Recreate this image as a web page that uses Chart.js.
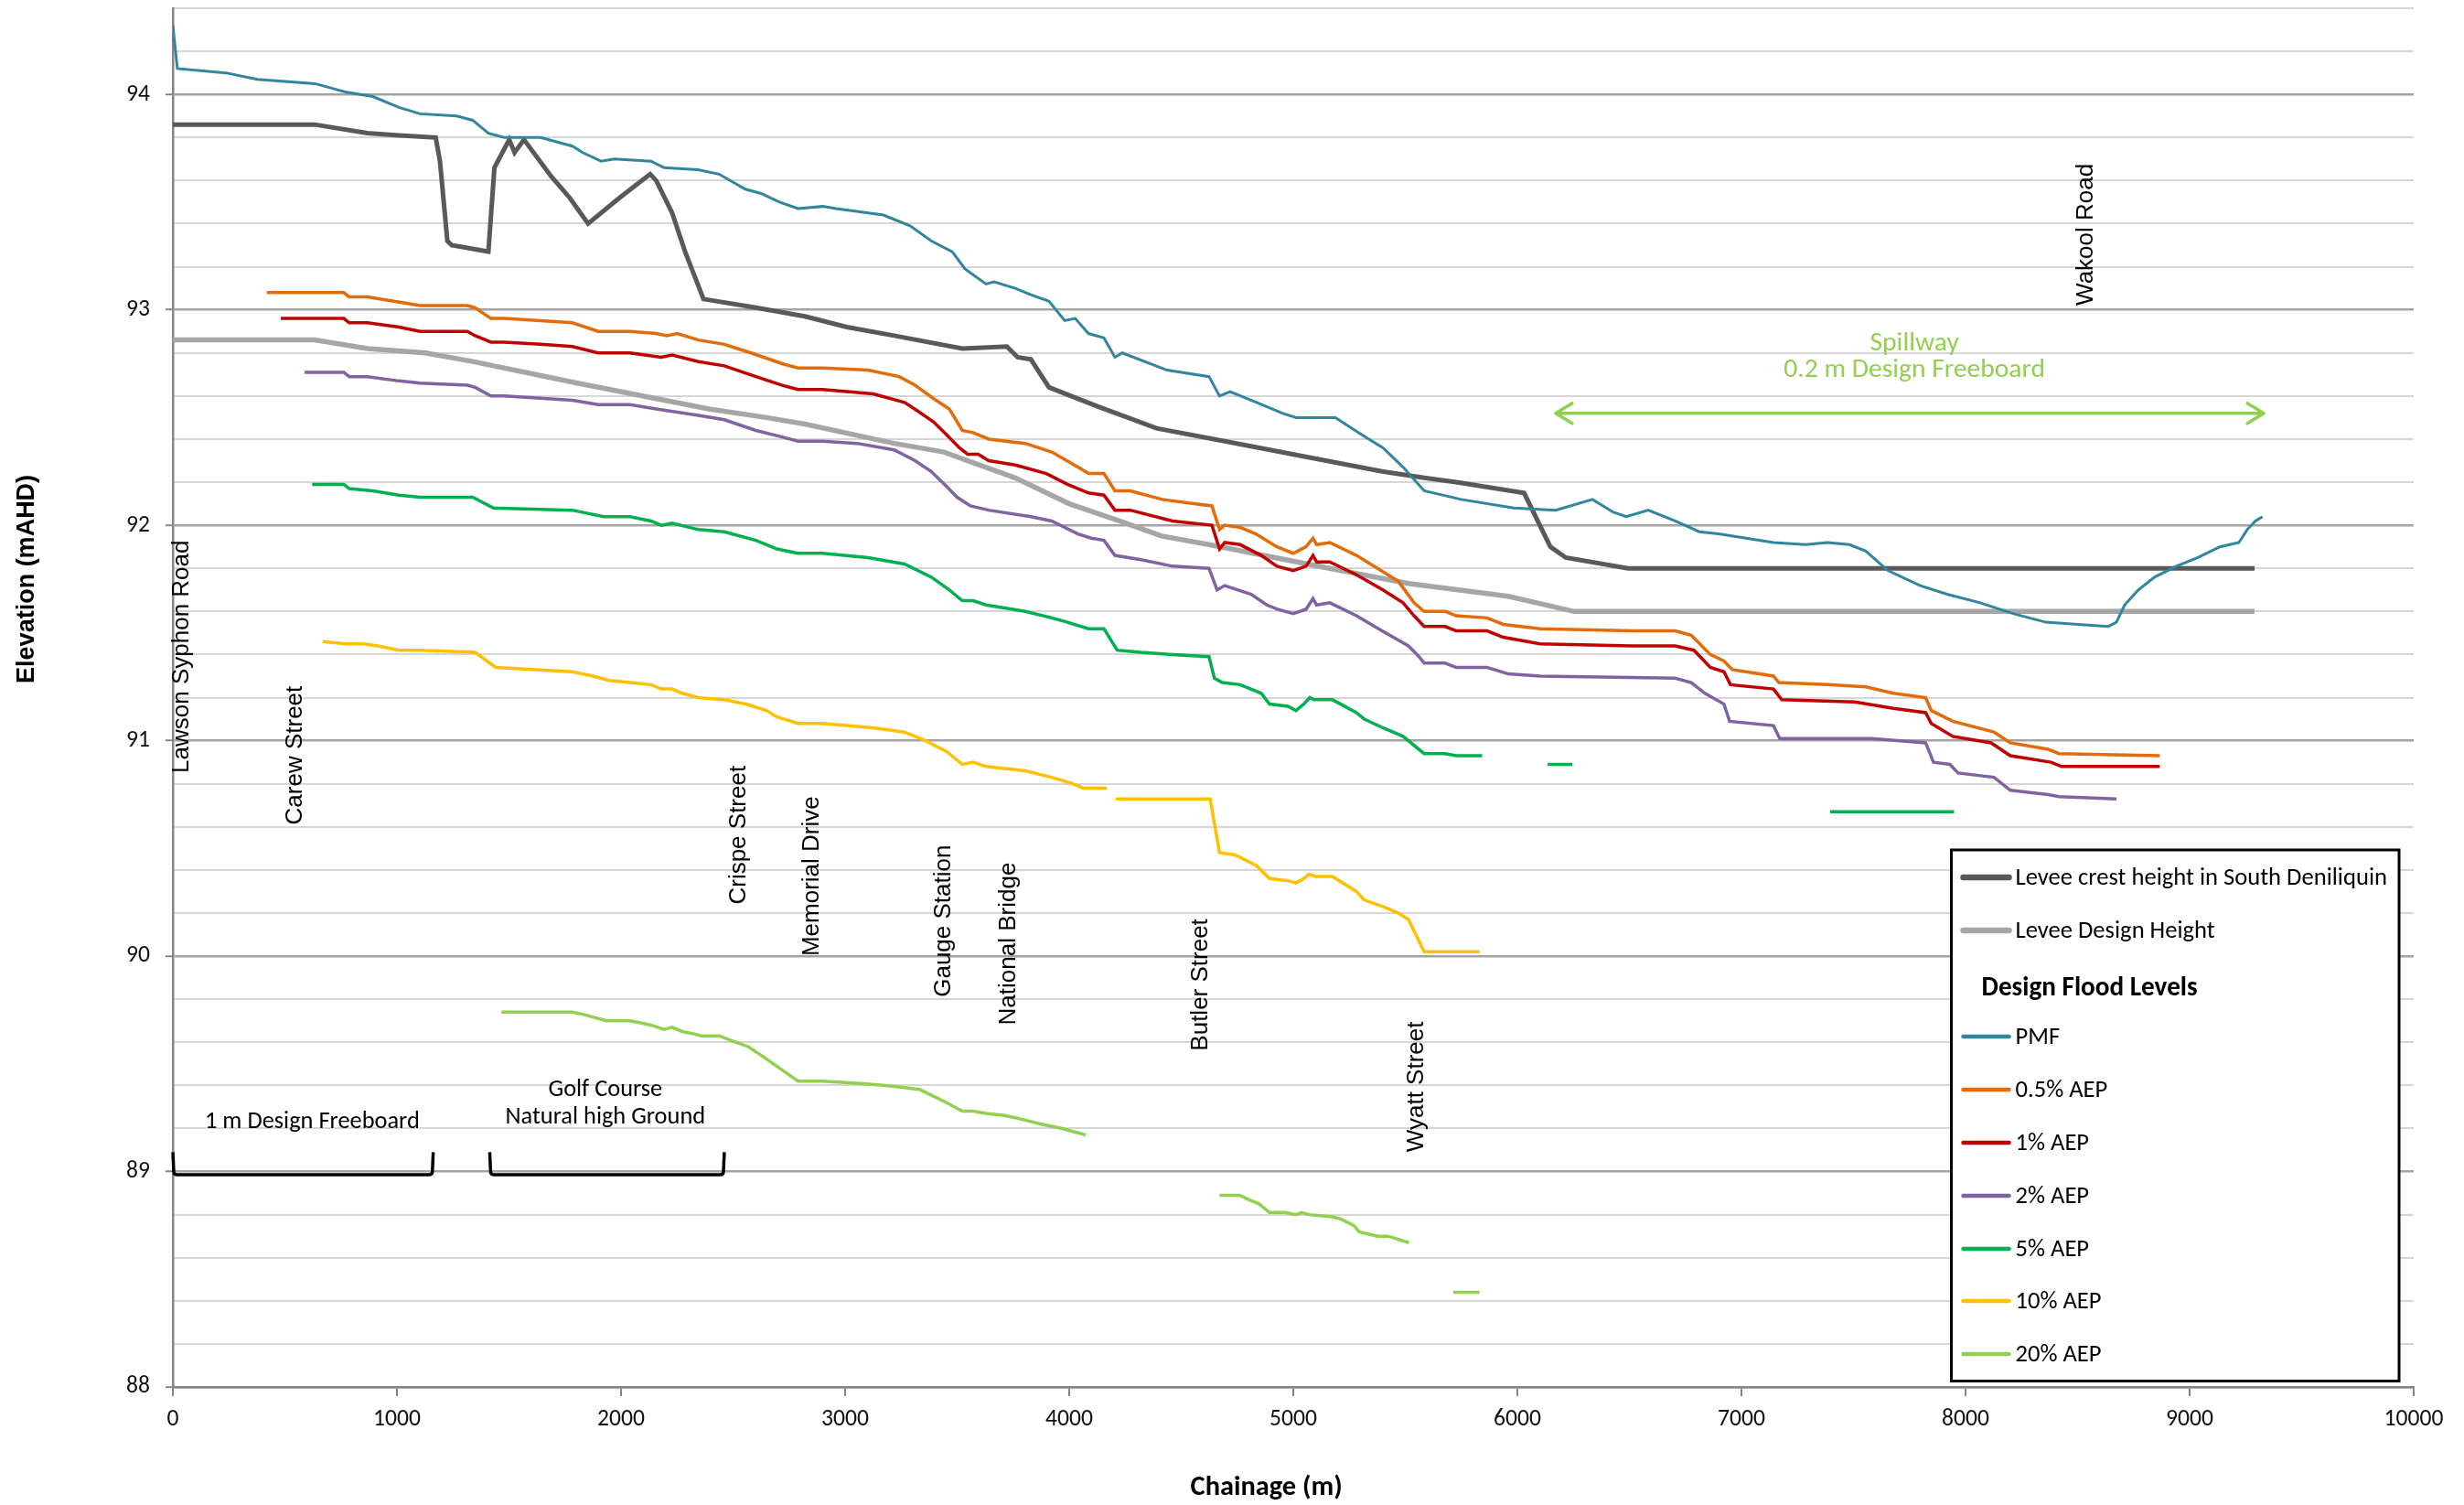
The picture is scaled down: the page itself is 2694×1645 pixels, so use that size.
<!DOCTYPE html>
<html><head><meta charset="utf-8">
<script src="https://cdn.jsdelivr.net/npm/chart.js@4.4.1/dist/chart.umd.min.js"></script>
<style>html,body{margin:0;padding:0;background:#fff}#wrap{position:relative;width:2694px;height:1645px}</style>
</head><body><div id="wrap"><canvas id="c"></canvas></div>
<script>
// ---------------- DATA ----------------
const X_TICK_STEP = 1000;
const Y_MIN = 88, Y_MAX = 94.4;

const LEVEE_CREST_X = [0, 633, 868, 1009, 1173, 1192, 1225, 1244, 1408, 1435, 1501, 1525, 1567, 1688, 1771, 1853, 1993, 2130, 2157, 2228, 2286, 2368, 2602, 2820, 3008, 3219, 3523, 3722, 3770, 3829, 3910, 4131, 4390, 4694, 5045, 5396, 5584, 5727, 6030, 6147, 6216, 6494, 9290];
const LEVEE_CREST_Y = [93.86, 93.86, 93.82, 93.81, 93.80, 93.69, 93.32, 93.30, 93.27, 93.66, 93.79, 93.73, 93.79, 93.62, 93.52, 93.40, 93.52, 93.63, 93.60, 93.45, 93.27, 93.05, 93.01, 92.97, 92.92, 92.88, 92.82, 92.83, 92.78, 92.77, 92.64, 92.55, 92.45, 92.39, 92.32, 92.25, 92.22, 92.20, 92.15, 91.90, 91.85, 91.80, 91.80];

const LEVEE_DESIGN_X = [0, 633, 868, 1127, 1338, 1805, 2392, 2649, 2820, 3219, 3441, 3759, 4000, 4224, 4412, 4624, 5163, 5514, 5959, 6253, 9290];
const LEVEE_DESIGN_Y = [92.86, 92.86, 92.82, 92.80, 92.76, 92.66, 92.54, 92.50, 92.47, 92.38, 92.34, 92.22, 92.10, 92.02, 91.95, 91.91, 91.80, 91.73, 91.67, 91.60, 91.60];

const PMF_X = [0, 20, 236, 377, 634, 775, 892, 1009, 1103, 1266, 1338, 1408, 1478, 1641, 1783, 1829, 1911, 1970, 2134, 2192, 2343, 2437, 2555, 2625, 2707, 2790, 2900, 2960, 3171, 3290, 3384, 3478, 3535, 3629, 3665, 3759, 3829, 3910, 3980, 4027, 4086, 4155, 4204, 4237, 4437, 4624, 4671, 4718, 4836, 4951, 5012, 5188, 5306, 5400, 5490, 5584, 5749, 5984, 6171, 6335, 6429, 6486, 6584, 6704, 6812, 6898, 7143, 7286, 7384, 7482, 7555, 7653, 7798, 7918, 8065, 8212, 8358, 8502, 8637, 8673, 8710, 8771, 8845, 8941, 9037, 9135, 9220, 9257, 9294, 9325];
const PMF_Y = [94.32, 94.12, 94.10, 94.07, 94.05, 94.01, 93.99, 93.94, 93.91, 93.90, 93.88, 93.82, 93.80, 93.80, 93.76, 93.73, 93.69, 93.70, 93.69, 93.66, 93.65, 93.63, 93.56, 93.54, 93.50, 93.47, 93.48, 93.47, 93.44, 93.39, 93.32, 93.27, 93.19, 93.12, 93.13, 93.10, 93.07, 93.04, 92.95, 92.96, 92.89, 92.87, 92.78, 92.80, 92.72, 92.69, 92.60, 92.62, 92.57, 92.52, 92.50, 92.50, 92.42, 92.36, 92.27, 92.16, 92.12, 92.08, 92.07, 92.12, 92.06, 92.04, 92.07, 92.02, 91.97, 91.96, 91.92, 91.91, 91.92, 91.91, 91.88, 91.79, 91.72, 91.68, 91.64, 91.59, 91.55, 91.54, 91.53, 91.55, 91.63, 91.70, 91.76, 91.81, 91.85, 91.90, 91.92, 91.98, 92.02, 92.04];

const AEP05_X = [419, 763, 787, 868, 986, 1103, 1314, 1349, 1419, 1478, 1641, 1783, 1898, 2040, 2157, 2205, 2251, 2345, 2461, 2580, 2719, 2790, 2900, 3102, 3241, 3312, 3406, 3465, 3523, 3571, 3641, 3804, 3922, 4039, 4086, 4155, 4204, 4273, 4415, 4555, 4637, 4671, 4694, 4763, 4833, 4927, 5000, 5057, 5088, 5104, 5163, 5282, 5376, 5469, 5539, 5584, 5678, 5727, 5865, 5937, 6102, 6510, 6704, 6776, 6861, 6922, 6959, 7143, 7167, 7384, 7555, 7678, 7822, 7847, 7943, 8127, 8200, 8369, 8417, 8867];
const AEP05_Y = [93.08, 93.08, 93.06, 93.06, 93.04, 93.02, 93.02, 93.01, 92.96, 92.96, 92.95, 92.94, 92.90, 92.90, 92.89, 92.88, 92.89, 92.86, 92.84, 92.80, 92.75, 92.73, 92.73, 92.72, 92.69, 92.65, 92.58, 92.54, 92.44, 92.43, 92.40, 92.38, 92.34, 92.27, 92.24, 92.24, 92.16, 92.16, 92.12, 92.10, 92.09, 91.98, 92.00, 91.99, 91.96, 91.90, 91.87, 91.90, 91.94, 91.91, 91.92, 91.86, 91.80, 91.74, 91.64, 91.60, 91.60, 91.58, 91.57, 91.54, 91.52, 91.51, 91.51, 91.49, 91.40, 91.37, 91.33, 91.30, 91.27, 91.26, 91.25, 91.22, 91.20, 91.14, 91.09, 91.04, 90.99, 90.96, 90.94, 90.93];

const AEP1_X = [482, 763, 787, 868, 1009, 1103, 1314, 1349, 1419, 1478, 1641, 1783, 1898, 2040, 2180, 2228, 2345, 2461, 2602, 2719, 2790, 2900, 3125, 3265, 3324, 3394, 3453, 3510, 3547, 3594, 3641, 3759, 3898, 3992, 4086, 4155, 4204, 4273, 4461, 4637, 4671, 4694, 4763, 4857, 4927, 5000, 5057, 5088, 5104, 5163, 5282, 5400, 5490, 5539, 5584, 5678, 5727, 5865, 5937, 6102, 6510, 6704, 6788, 6861, 6922, 6951, 7143, 7180, 7506, 7678, 7822, 7847, 7943, 8114, 8200, 8381, 8429, 8867];
const AEP1_Y = [92.96, 92.96, 92.94, 92.94, 92.92, 92.90, 92.90, 92.88, 92.85, 92.85, 92.84, 92.83, 92.80, 92.80, 92.78, 92.79, 92.76, 92.74, 92.69, 92.65, 92.63, 92.63, 92.61, 92.57, 92.53, 92.48, 92.42, 92.36, 92.33, 92.33, 92.30, 92.28, 92.24, 92.19, 92.15, 92.14, 92.07, 92.07, 92.02, 92.00, 91.89, 91.92, 91.91, 91.86, 91.81, 91.79, 91.81, 91.86, 91.83, 91.83, 91.77, 91.70, 91.64, 91.58, 91.53, 91.53, 91.51, 91.51, 91.48, 91.45, 91.44, 91.44, 91.42, 91.34, 91.32, 91.26, 91.24, 91.19, 91.18, 91.15, 91.13, 91.08, 91.02, 90.99, 90.93, 90.90, 90.88, 90.88];

const AEP2_X = [588, 763, 787, 868, 1009, 1103, 1314, 1349, 1419, 1478, 1641, 1783, 1898, 2040, 2157, 2345, 2461, 2602, 2719, 2790, 2900, 3053, 3219, 3312, 3384, 3453, 3500, 3559, 3641, 3829, 3922, 4039, 4098, 4155, 4204, 4320, 4461, 4624, 4660, 4694, 4812, 4882, 4929, 5000, 5057, 5088, 5104, 5163, 5282, 5396, 5514, 5561, 5584, 5678, 5727, 5865, 5959, 6102, 6704, 6776, 6837, 6922, 6947, 7143, 7171, 7580, 7822, 7857, 7930, 7967, 8127, 8200, 8369, 8417, 8673];
const AEP2_Y = [92.71, 92.71, 92.69, 92.69, 92.67, 92.66, 92.65, 92.64, 92.60, 92.60, 92.59, 92.58, 92.56, 92.56, 92.54, 92.51, 92.49, 92.44, 92.41, 92.39, 92.39, 92.38, 92.35, 92.30, 92.25, 92.18, 92.13, 92.09, 92.07, 92.04, 92.02, 91.96, 91.94, 91.93, 91.86, 91.84, 91.81, 91.80, 91.70, 91.72, 91.68, 91.63, 91.61, 91.59, 91.61, 91.66, 91.63, 91.64, 91.58, 91.51, 91.44, 91.39, 91.36, 91.36, 91.34, 91.34, 91.31, 91.30, 91.29, 91.27, 91.22, 91.17, 91.09, 91.07, 91.01, 91.01, 90.99, 90.90, 90.89, 90.85, 90.83, 90.77, 90.75, 90.74, 90.73];

const AEP5_X = [622, 763, 787, 892, 1009, 1103, 1338, 1431, 1782, 1923, 2040, 2134, 2180, 2228, 2345, 2461, 2602, 2696, 2790, 2900, 3102, 3265, 3384, 3465, 3523, 3571, 3629, 3804, 3922, 3992, 4086, 4155, 4214, 4320, 4461, 4624, 4648, 4683, 4763, 4857, 4894, 4976, 5012, 5047, 5074, 5093, 5175, 5282, 5317, 5400, 5490, 5584, 5678, 5727, 5843, 6000, 6135, 6245, 7000, 7396, 7949];
const AEP5_Y = [92.19, 92.19, 92.17, 92.16, 92.14, 92.13, 92.13, 92.08, 92.07, 92.04, 92.04, 92.02, 92.00, 92.01, 91.98, 91.97, 91.93, 91.89, 91.87, 91.87, 91.85, 91.82, 91.76, 91.70, 91.65, 91.65, 91.63, 91.60, 91.57, 91.55, 91.52, 91.52, 91.42, 91.41, 91.40, 91.39, 91.29, 91.27, 91.26, 91.22, 91.17, 91.16, 91.14, 91.17, 91.20, 91.19, 91.19, 91.13, 91.10, 91.06, 91.02, 90.94, 90.94, 90.93, 90.93, null, 90.89, 90.89, null, 90.67, 90.67];

const AEP10_X = [669, 772, 845, 915, 1009, 1103, 1349, 1441, 1782, 1876, 1946, 2040, 2134, 2180, 2228, 2273, 2345, 2461, 2556, 2649, 2696, 2790, 2900, 3125, 3265, 3359, 3453, 3523, 3571, 3629, 3804, 3922, 4015, 4063, 4168, 4188, 4207, 4629, 4671, 4741, 4836, 4894, 4976, 5012, 5047, 5071, 5099, 5175, 5282, 5317, 5400, 5469, 5514, 5584, 5831];
const AEP10_Y = [91.46, 91.45, 91.45, 91.44, 91.42, 91.42, 91.41, 91.34, 91.32, 91.30, 91.28, 91.27, 91.26, 91.24, 91.24, 91.22, 91.20, 91.19, 91.17, 91.14, 91.11, 91.08, 91.08, 91.06, 91.04, 91.00, 90.95, 90.89, 90.90, 90.88, 90.86, 90.83, 90.80, 90.78, 90.78, null, 90.73, 90.73, 90.48, 90.47, 90.42, 90.36, 90.35, 90.34, 90.36, 90.38, 90.37, 90.37, 90.30, 90.26, 90.23, 90.20, 90.17, 90.02, 90.02];

const AEP20_X = [1466, 1782, 1829, 1935, 2040, 2087, 2134, 2192, 2228, 2273, 2322, 2357, 2439, 2486, 2567, 2625, 2790, 2900, 3053, 3171, 3265, 3335, 3453, 3523, 3570, 3629, 3711, 3759, 3876, 3969, 4074, 4300, 4671, 4760, 4800, 4847, 4894, 4964, 5012, 5036, 5071, 5175, 5211, 5270, 5294, 5376, 5423, 5516, 5600, 5714, 5831];
const AEP20_Y = [89.74, 89.74, 89.73, 89.70, 89.70, 89.69, 89.68, 89.66, 89.67, 89.65, 89.64, 89.63, 89.63, 89.61, 89.58, 89.54, 89.42, 89.42, 89.41, 89.40, 89.39, 89.38, 89.32, 89.28, 89.28, 89.27, 89.26, 89.25, 89.22, 89.20, 89.17, null, 88.89, 88.89, 88.87, 88.85, 88.81, 88.81, 88.80, 88.81, 88.80, 88.79, 88.78, 88.75, 88.72, 88.70, 88.70, 88.67, null, 88.44, 88.44];

const SERIES_LABELS = ['Levee crest height in South Deniliquin', 'Levee Design Height', 'PMF', '0.5% AEP', '1% AEP', '2% AEP', '5% AEP', '10% AEP', '20% AEP'];

// location labels (chainage of label, elevation where the upright text begins)
const STREET_NAMES = ['Lawson Syphon Road', 'Carew Street', 'Crispe Street', 'Memorial Drive', 'Gauge Station', 'National Bridge', 'Butler Street', 'Wyatt Street', 'Wakool Road'];
const STREET_CHAINAGE = [41, 547, 2527, 2853, 3441, 3731, 4588, 5551, 8539];
const STREET_LABEL_ELEV = [90.85, 90.61, 90.24, 90.00, 89.81, 89.68, 89.56, 89.09, 93.02];

// freeboard brackets
const BRACKET_START = [0, 1414];
const BRACKET_END = [1162, 2461];
const BRACKET_TOP = 89.09, BRACKET_BOTTOM = 88.985;
const BRACKET_TEXT = [['1 m Design Freeboard'], ['Golf Course', 'Natural high Ground']];
const BRACKET_TEXT_X = [622, 1930];
const BRACKET_TEXT_Y = [[89.23], [89.38, 89.25]];

// spillway arrow
const SPILL_FROM = 6171, SPILL_TO = 9331, SPILL_ELEV = 92.52;
const SPILL_TEXT = ['Spillway', '0.2 m Design Freeboard'];
const SPILL_TEXT_X = 7772;
const SPILL_TEXT_Y = [92.845, 92.718];

// ---------------- FONTS ----------------
const mctx = document.createElement('canvas').getContext('2d');
function hasFont(name) {
  const s = 'abcdefghijklmnopqrstuvwxyz0123456789ABCDEF';
  mctx.font = '40px monospace'; const a = mctx.measureText(s).width;
  mctx.font = '40px "' + name + '", monospace'; const b = mctx.measureText(s).width;
  mctx.font = '40px serif'; const c = mctx.measureText(s).width;
  mctx.font = '40px "' + name + '", serif'; const d = mctx.measureText(s).width;
  return a !== b || c !== d;
}
const NARROW = ['Carlito', 'Liberation Sans Narrow', 'Lato'].find(hasFont) || 'Lato';
const NARROW_F = '"' + NARROW + '", "Liberation Sans", sans-serif';
const ARIAL_F = '"Liberation Sans", Arial, sans-serif';
function fit(text, target, family, weight) {
  mctx.font = (weight || 'normal') + ' 100px ' + family;
  return Math.round(1000 * target / mctx.measureText(text).width) / 10;
}
const FS = {
  tick: fit('10000', 65, NARROW_F),
  legend: fit('Levee crest height in South Deniliquin', 407, NARROW_F),
  legendHead: fit('Design Flood Levels', 236, NARROW_F, 'bold'),
  spill: fit('0.2 m Design Freeboard', 286, NARROW_F),
  bracket: fit('1 m Design Freeboard', 235, NARROW_F),
  xTitle: fit('Chainage (m)', 166, NARROW_F, 'bold'),
  yTitle: fit('Elevation (mAHD)', 228, ARIAL_F, 'bold'),
  street: fit('Gauge Station', 166, ARIAL_F)
};

// ---------------- CHART ----------------
const COLORS = ['#595959', '#a6a6a6', '#31859c', '#e36c09', '#c00000', '#8064a2', '#00b050', '#ffc000', '#92d050'];
const WIDTHS = [5, 5.5, 3, 3.5, 3.5, 3.5, 3.5, 3.5, 3.5];
const XS = [LEVEE_CREST_X, LEVEE_DESIGN_X, PMF_X, AEP05_X, AEP1_X, AEP2_X, AEP5_X, AEP10_X, AEP20_X];
const YS = [LEVEE_CREST_Y, LEVEE_DESIGN_Y, PMF_Y, AEP05_Y, AEP1_Y, AEP2_Y, AEP5_Y, AEP10_Y, AEP20_Y];

const datasets = SERIES_LABELS.map((lab, i) => ({
  label: lab,
  data: XS[i].map((xv, j) => ({x: xv, y: YS[i][j]})),
  borderColor: COLORS[i],
  backgroundColor: COLORS[i],
  borderWidth: WIDTHS[i],
  pointRadius: 0,
  fill: false,
  spanGaps: false,
  tension: 0,
  order: 100 - i
}));

const isMajor = v => Math.abs(v - Math.round(v)) < 1e-6;

const overlay = {
  id: 'overlay',
  afterDatasetsDraw(chart) {
    const {ctx, scales: {x, y}} = chart;
    ctx.save();
    // street labels
    ctx.fillStyle = '#000';
    ctx.font = FS.street + 'px ' + ARIAL_F;
    ctx.textAlign = 'left'; ctx.textBaseline = 'middle';
    STREET_NAMES.forEach((n, i) => {
      const px = x.getPixelForValue(STREET_CHAINAGE[i]);
      const py = y.getPixelForValue(STREET_LABEL_ELEV[i]);
      ctx.save(); ctx.translate(px, py); ctx.rotate(-Math.PI / 2); ctx.fillText(n, 0, 0); ctx.restore();
    });
    // brackets
    ctx.strokeStyle = '#000'; ctx.lineWidth = 3.5; ctx.lineJoin = 'round';
    BRACKET_START.forEach((s, i) => {
      const x0 = x.getPixelForValue(s), x1 = x.getPixelForValue(BRACKET_END[i]);
      const yt = y.getPixelForValue(BRACKET_TOP), yb = y.getPixelForValue(BRACKET_BOTTOM);
      ctx.beginPath();
      ctx.moveTo(x0, yt); ctx.lineTo(x0 + 1, yb - 3); ctx.quadraticCurveTo(x0 + 1, yb, x0 + 5, yb);
      ctx.lineTo(x1 - 5, yb); ctx.quadraticCurveTo(x1 - 1, yb, x1 - 1, yb - 3); ctx.lineTo(x1, yt);
      ctx.stroke();
      ctx.font = FS.bracket + 'px ' + NARROW_F; ctx.textAlign = 'center'; ctx.textBaseline = 'middle';
      BRACKET_TEXT[i].forEach((t, k) => ctx.fillText(t, x.getPixelForValue(BRACKET_TEXT_X[i]), y.getPixelForValue(BRACKET_TEXT_Y[i][k])));
    });
    // spillway arrow
    const g = '#92d050';
    const ax0 = x.getPixelForValue(SPILL_FROM), ax1 = x.getPixelForValue(SPILL_TO), ay = y.getPixelForValue(SPILL_ELEV);
    ctx.strokeStyle = g; ctx.lineWidth = 3.5; ctx.lineCap = 'round';
    ctx.beginPath(); ctx.moveTo(ax0, ay); ctx.lineTo(ax1, ay);
    ctx.moveTo(ax0 + 18, ay - 11); ctx.lineTo(ax0, ay); ctx.lineTo(ax0 + 18, ay + 11);
    ctx.moveTo(ax1 - 18, ay - 11); ctx.lineTo(ax1, ay); ctx.lineTo(ax1 - 18, ay + 11);
    ctx.stroke();
    ctx.fillStyle = g; ctx.font = FS.spill + 'px ' + NARROW_F; ctx.textAlign = 'center'; ctx.textBaseline = 'middle';
    SPILL_TEXT.forEach((t, k) => ctx.fillText(t, x.getPixelForValue(SPILL_TEXT_X), y.getPixelForValue(SPILL_TEXT_Y[k])));
    ctx.restore();
  },
  afterDraw(chart) {
    const {ctx, chartArea: ca} = chart;
    ctx.save();
    // axis titles
    ctx.fillStyle = '#000'; ctx.textAlign = 'center'; ctx.textBaseline = 'middle';
    ctx.font = 'bold ' + FS.xTitle + 'px ' + NARROW_F;
    ctx.fillText('Chainage (m)', ca.left + 0.488 * (ca.right - ca.left), ca.bottom + 110);
    ctx.save();
    ctx.font = 'bold ' + FS.yTitle + 'px ' + ARIAL_F;
    ctx.translate(30, ca.top + 0.414 * (ca.bottom - ca.top)); ctx.rotate(-Math.PI / 2);
    ctx.fillText('Elevation (mAHD)', 0, 0);
    ctx.restore();
    // legend box
    const L = ca.right - 505.5, T = ca.bottom - 587, W = 489.5, H = 580.5;
    ctx.fillStyle = '#fff'; ctx.fillRect(L, T, W, H);
    ctx.strokeStyle = '#000'; ctx.lineWidth = 3; ctx.strokeRect(L, T, W, H);
    const rows = [30, 88, 204, 262, 320, 378, 436, 493, 551];
    const ds = chart.data.datasets;
    ctx.textAlign = 'left'; ctx.textBaseline = 'middle';
    ds.forEach((d, i) => {
      const yy = T + rows[i];
      ctx.strokeStyle = d.borderColor; ctx.lineWidth = i < 2 ? 6.5 : 4.5; ctx.lineCap = 'round';
      ctx.beginPath(); ctx.moveTo(L + 13, yy); ctx.lineTo(L + 63, yy); ctx.stroke();
      ctx.fillStyle = '#000'; ctx.font = FS.legend + 'px ' + NARROW_F;
      ctx.fillText(d.label, L + 70, yy + 1);
    });
    ctx.font = 'bold ' + FS.legendHead + 'px ' + NARROW_F;
    ctx.fillText('Design Flood Levels', L + 33, T + 152);
    ctx.restore();
  }
};

new Chart(document.getElementById('c'), {
  type: 'line',
  data: {datasets},
  plugins: [overlay],
  options: {
    responsive: true, maintainAspectRatio: false, animation: false, devicePixelRatio: 1,
    layout: {padding: {left: 0, right: 55, top: 9, bottom: 0}},
    plugins: {legend: {display: false}, tooltip: {enabled: false}},
    scales: {
      x: {
        type: 'linear', min: 0, max: 10000,
        ticks: {stepSize: X_TICK_STEP, autoSkip: false, maxRotation: 0, color: '#111', padding: 10, font: {family: NARROW_F, size: FS.tick},
                callback: v => String(Math.round(v))},
        grid: {drawOnChartArea: false, drawTicks: true, tickLength: 10, color: '#868686', lineWidth: 2},
        border: {display: true, color: '#868686', width: 2.5},
        afterFit: s => { s.height = 129; s.paddingLeft = 0; s.paddingRight = 0; }
      },
      y: {
        min: Y_MIN, max: Y_MAX,
        ticks: {stepSize: 0.2, autoSkip: false, color: '#111', padding: 17, font: {family: NARROW_F, size: FS.tick},
                callback: v => isMajor(v) ? String(Math.round(v)) : ''},
        grid: {
          color: c => isMajor(c.tick.value) ? '#a3a3a3' : '#d6d6d6',
          lineWidth: c => isMajor(c.tick.value) ? 2.5 : 2,
          tickLength: 8,
          tickColor: c => isMajor(c.tick.value) ? '#868686' : 'rgba(0,0,0,0)',
          tickWidth: 2
        },
        border: {display: true, color: '#868686', width: 2.5},
        afterFit: s => { s.width = 189; s.paddingTop = 0; s.paddingBottom = 0; }
      }
    }
  }
});
</script></body></html>
